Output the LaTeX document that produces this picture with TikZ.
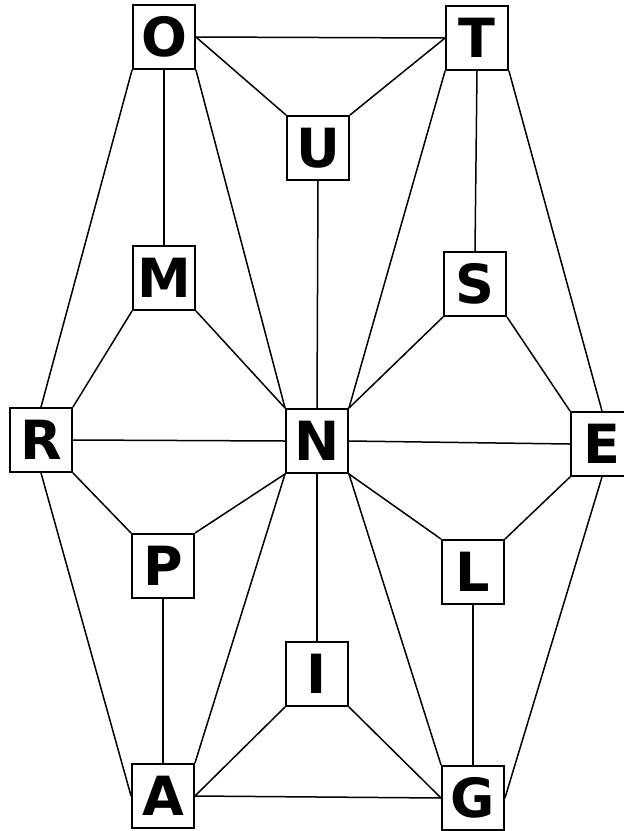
\documentclass[tikz,border=0pt]{standalone}
\usepackage{fontspec}
\newfontfamily\boxfont{DejaVu Sans}
\begin{document}
\begin{tikzpicture}[x=1pt,y=-1pt,
  letterbox/.style={draw=black,fill=white,line width=1.9pt,minimum width=62pt,minimum height=64pt,inner sep=0pt,font=\boxfont\bfseries\fontsize{54}{54}\selectfont},
  edge/.style={line width=1.5pt,black}]
\useasboundingbox (0,0) rectangle (624,831);
\fill[white] (0,0) rectangle (624,831);
\node[letterbox] (O) at (164,37) {O};
\node[letterbox] (T) at (477,38) {T};
\node[letterbox] (U) at (318,148) {U};
\node[letterbox] (M) at (164,278) {M};
\node[letterbox] (S) at (475,284) {S};
\node[letterbox] (R) at (41,440) {R};
\node[letterbox] (N) at (317,441) {N};
\node[letterbox] (E) at (602,444) {E};
\node[letterbox] (P) at (163,566) {P};
\node[letterbox] (L) at (473,572) {L};
\node[letterbox] (I) at (317,674) {I};
\node[letterbox] (A) at (163,796) {A};
\node[letterbox] (G) at (473,798) {G};
\begin{scope}[edge]
\draw (O.east) -- (T.west);
\draw (O.east) -- (U.north west);
\draw (T.west) -- (U.north east);
\draw (O.south) -- (M.north);
\draw (O.south west) -- (R.north);
\draw (O.south east) -- (N.north west);
\draw (T.south) -- (S.north);
\draw (T.south west) -- (N.north east);
\draw (T.south east) -- (E.north);
\draw (U.south) -- (N.north);
\draw (M.south west) -- (R.north east);
\draw (M.south east) -- (N.north west);
\draw (S.south west) -- (N.north east);
\draw (S.south east) -- (E.north west);
\draw (R.east) -- (N.west);
\draw (N.east) -- (E.west);
\draw (R.south east) -- (P.north west);
\draw (R.south) -- (A.west);
\draw (P.north east) -- (N.south west);
\draw (P.south) -- (A.north);
\draw (E.south west) -- (L.north east);
\draw (E.south) -- (G.east);
\draw (L.north west) -- (N.south east);
\draw (L.south) -- (G.north);
\draw (N.south) -- (I.north);
\draw (N.south west) -- (A.north east);
\draw (N.south east) -- (G.north west);
\draw (I.south west) -- (A.east);
\draw (I.south east) -- (G.west);
\draw (A.east) -- (G.west);
\end{scope}
\end{tikzpicture}
\end{document}
